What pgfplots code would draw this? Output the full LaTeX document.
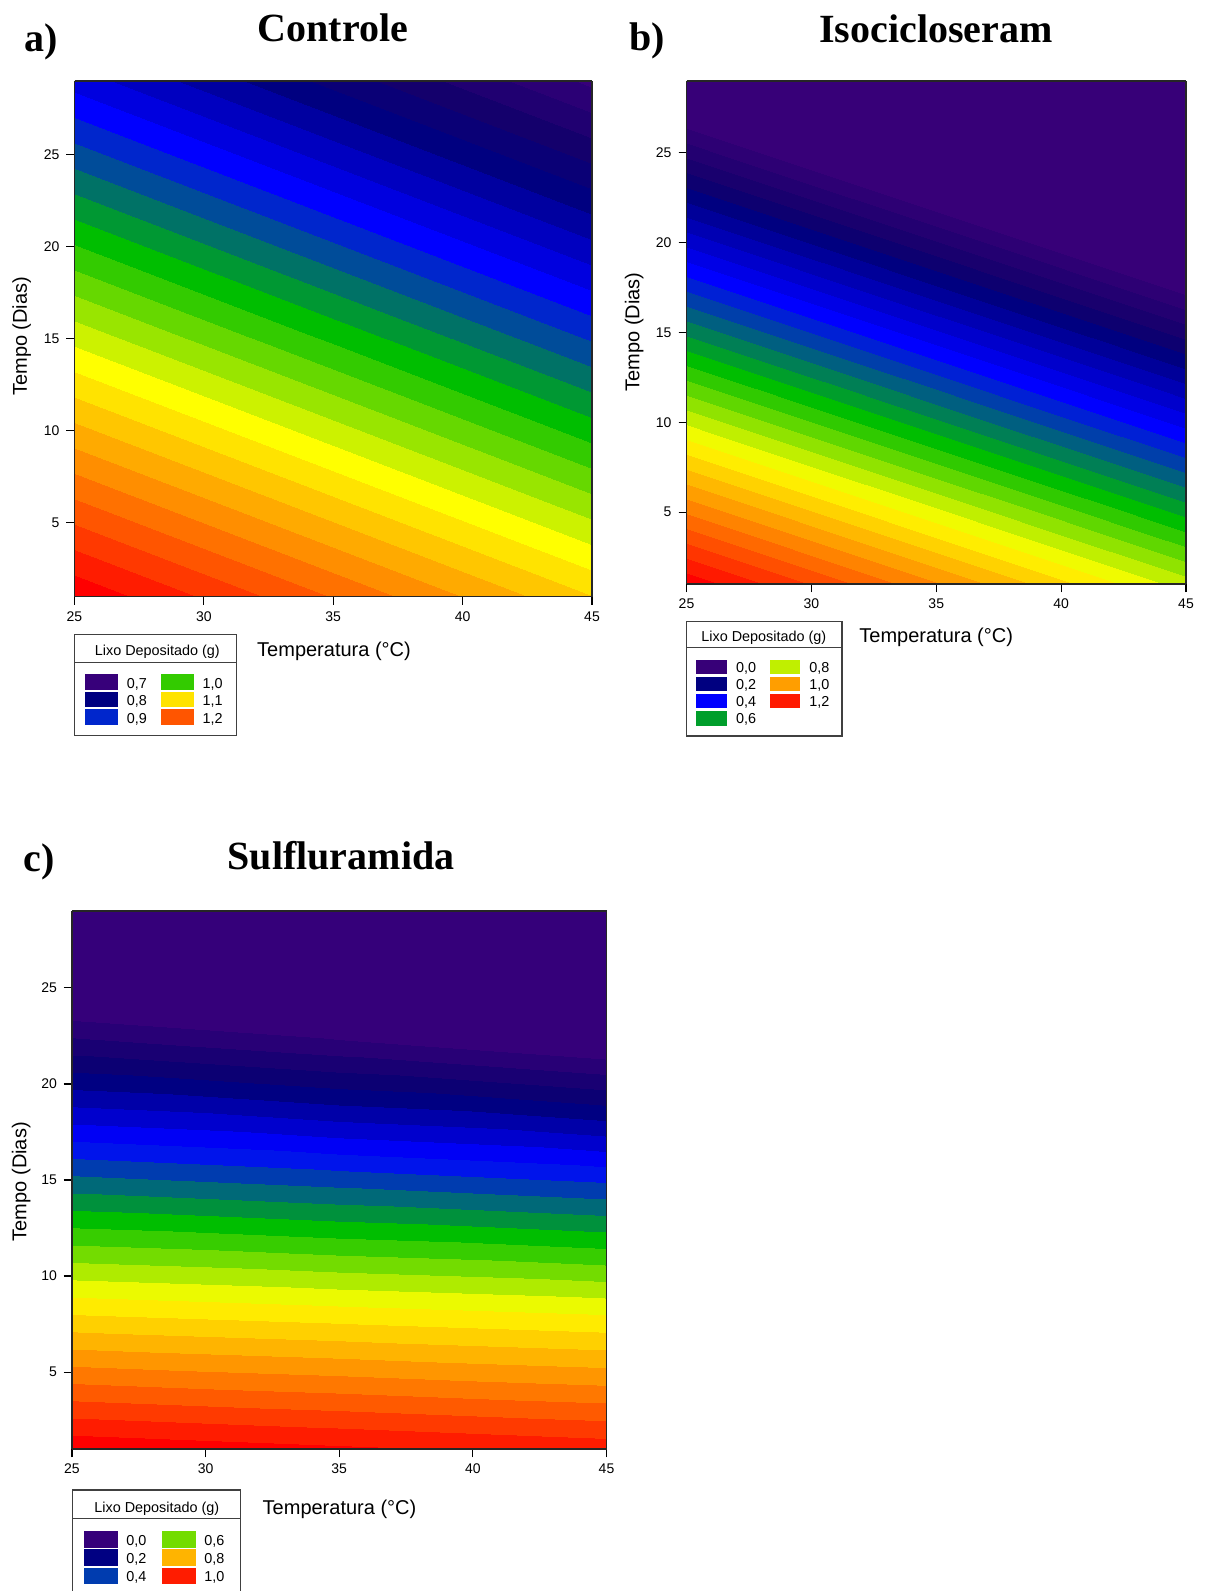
\documentclass[border=0pt]{standalone}
\usepackage{pgfplots}
\pgfplotsset{compat=1.18}
\usepackage{fontspec}
\setmainfont{Liberation Sans}
\newfontfamily\titlefont{Liberation Serif}

\pgfplotsset{
 colormap={cmA}{
  rgb255(0cm)=(55,0,122) rgb255(1cm)=(55,0,122) rgb255(2cm)=(43,0,117) rgb255(3cm)=(32,0,113)
  rgb255(4cm)=(20,0,108) rgb255(5cm)=(10,0,118) rgb255(6cm)=(0,0,128) rgb255(7cm)=(0,0,160)
  rgb255(8cm)=(0,0,192) rgb255(9cm)=(0,0,223) rgb255(10cm)=(0,0,255) rgb255(11cm)=(0,38,204)
  rgb255(12cm)=(0,76,153) rgb255(13cm)=(0,114,102) rgb255(14cm)=(0,152,51) rgb255(15cm)=(0,190,0)
  rgb255(16cm)=(51,203,0) rgb255(17cm)=(102,216,0) rgb255(18cm)=(153,229,0) rgb255(19cm)=(204,242,0)
  rgb255(20cm)=(255,255,0) rgb255(21cm)=(255,227,0) rgb255(22cm)=(255,198,0) rgb255(23cm)=(255,170,0)
  rgb255(24cm)=(255,142,0) rgb255(25cm)=(255,113,0) rgb255(26cm)=(255,85,0) rgb255(27cm)=(255,57,0)
  rgb255(28cm)=(255,28,0) rgb255(29cm)=(255,0,0) rgb255(30cm)=(255,0,0) rgb255(31cm)=(255,0,0)
 },
 colormap={cmB}{
  rgb255(0cm)=(55,0,120) rgb255(1cm)=(55,0,120) rgb255(2cm)=(55,0,120) rgb255(3cm)=(55,0,120)
  rgb255(4cm)=(55,0,120) rgb255(5cm)=(55,0,120) rgb255(6cm)=(55,0,120) rgb255(7cm)=(55,0,120)
  rgb255(8cm)=(55,0,120) rgb255(9cm)=(55,0,120) rgb255(10cm)=(55,0,120) rgb255(11cm)=(55,0,120)
  rgb255(12cm)=(55,0,120) rgb255(13cm)=(55,0,120) rgb255(14cm)=(55,0,120) rgb255(15cm)=(45,0,116)
  rgb255(16cm)=(35,0,113) rgb255(17cm)=(25,0,110) rgb255(18cm)=(13,0,112) rgb255(19cm)=(0,0,128)
  rgb255(20cm)=(0,0,153) rgb255(21cm)=(0,0,179) rgb255(22cm)=(0,0,204) rgb255(23cm)=(0,0,230)
  rgb255(24cm)=(0,0,255) rgb255(25cm)=(0,32,213) rgb255(26cm)=(0,63,170) rgb255(27cm)=(0,95,128)
  rgb255(28cm)=(0,127,85) rgb255(29cm)=(0,158,43) rgb255(30cm)=(0,190,0) rgb255(31cm)=(48,202,0)
  rgb255(32cm)=(96,215,0) rgb255(33cm)=(144,227,0) rgb255(34cm)=(192,239,0) rgb255(35cm)=(240,251,0)
  rgb255(36cm)=(255,237,0) rgb255(37cm)=(255,210,0) rgb255(38cm)=(255,184,0) rgb255(39cm)=(255,158,0)
  rgb255(40cm)=(255,131,0) rgb255(41cm)=(255,105,0) rgb255(42cm)=(255,79,0) rgb255(43cm)=(255,53,0)
  rgb255(44cm)=(255,26,0) rgb255(45cm)=(255,0,0) rgb255(46cm)=(255,0,0) rgb255(47cm)=(255,0,0)
 },
 colormap={cmC}{
  rgb255(0cm)=(53,0,122) rgb255(1cm)=(53,0,122) rgb255(2cm)=(53,0,122) rgb255(3cm)=(53,0,122)
  rgb255(4cm)=(53,0,122) rgb255(5cm)=(53,0,122) rgb255(6cm)=(53,0,122) rgb255(7cm)=(53,0,122)
  rgb255(8cm)=(53,0,122) rgb255(9cm)=(53,0,122) rgb255(10cm)=(53,0,122) rgb255(11cm)=(53,0,122)
  rgb255(12cm)=(40,0,118) rgb255(13cm)=(25,0,115) rgb255(14cm)=(12,0,115) rgb255(15cm)=(0,0,130)
  rgb255(16cm)=(0,0,168) rgb255(17cm)=(0,0,205) rgb255(18cm)=(0,0,245) rgb255(19cm)=(0,20,235)
  rgb255(20cm)=(0,60,175) rgb255(21cm)=(0,105,120) rgb255(22cm)=(0,145,60) rgb255(23cm)=(0,190,0)
  rgb255(24cm)=(55,205,0) rgb255(25cm)=(115,220,0) rgb255(26cm)=(175,235,0) rgb255(27cm)=(235,250,0)
  rgb255(28cm)=(255,235,0) rgb255(29cm)=(255,208,0) rgb255(30cm)=(255,180,0) rgb255(31cm)=(255,150,0)
  rgb255(32cm)=(255,120,0) rgb255(33cm)=(255,90,0) rgb255(34cm)=(255,58,0) rgb255(35cm)=(255,28,0)
  rgb255(36cm)=(255,0,0) rgb255(37cm)=(255,0,0) rgb255(38cm)=(255,0,0)
 },
 myax/.style={
  scale only axis, view={0}{90},
  xmin=25, xmax=45, ymin=1, ymax=29,
  xtick={25,30,35,40,45}, ytick={5,10,15,20,25},
  tick pos=left, tick align=outside,
  major tick length=4pt,
  every tick/.style={black, line width=0.6pt},
  axis line style={black!85, line width=0.65pt},
  ticklabel style={font=\fontsize{7}{8.4}\selectfont},
  /pgf/number format/assume math mode=true,
  axis on top,
  colormap access=piecewise constant,
 },
}

\definecolor{la1}{RGB}{55,0,122}
\definecolor{la2}{RGB}{0,0,128}
\definecolor{la3}{RGB}{0,38,204}
\definecolor{la4}{RGB}{51,203,0}
\definecolor{la5}{RGB}{255,227,0}
\definecolor{la6}{RGB}{255,85,0}
\definecolor{lb1}{RGB}{55,0,120}
\definecolor{lb2}{RGB}{0,0,128}
\definecolor{lb3}{RGB}{0,0,255}
\definecolor{lb4}{RGB}{0,158,43}
\definecolor{lb5}{RGB}{192,239,0}
\definecolor{lb6}{RGB}{255,158,0}
\definecolor{lb7}{RGB}{255,26,0}
\definecolor{lc1}{RGB}{53,0,122}
\definecolor{lc2}{RGB}{0,0,130}
\definecolor{lc3}{RGB}{0,60,175}
\definecolor{lc4}{RGB}{115,220,0}
\definecolor{lc5}{RGB}{255,180,0}
\definecolor{lc6}{RGB}{255,28,0}

\newcommand\lgfont{\fontsize{7.2}{8.6}\selectfont}
\newcommand\labfont{\fontsize{10}{12}\selectfont}
\newcommand\ttlfont{\titlefont\bfseries\fontsize{20}{24}\selectfont}

\begin{document}
\begin{tikzpicture}
\path[use as bounding box] (0pt,0pt) rectangle (603pt,-795.5pt);
\begin{scope}[x=0.5pt,y=-0.5pt]
 \coordinate (SA) at (74.5,596.5);
 \coordinate (SB) at (686.5,584);
 \coordinate (SC) at (72,1449);
\end{scope}

% ---------- a) Controle ----------
\begin{axis}[myax, at={(SA)}, anchor=south west, width=258.75pt, height=257.75pt,
  colormap name=cmA, point meta min=0.68, point meta max=1.30]
\addplot3[surf, shader=interp, mesh/cols=2, mesh/rows=2] table {
x y z
25 1 1.277
45 1 1.121
25 29 0.871
45 29 0.715
};
\end{axis}

% ---------- b) Isocicloseram ----------
\begin{axis}[myax, at={(SB)}, anchor=south west, width=249.75pt, height=251.5pt,
  colormap name=cmB, point meta min=-0.56, point meta max=1.32]
\addplot3[surf, shader=interp, mesh/cols=2, mesh/rows=2] table {
x y z
25 1 1.269
45 1 0.820
25 29 -0.088
45 29 -0.537
};
\end{axis}

% ---------- c) Sulfluramida ----------
\begin{axis}[myax, at={(SC)}, anchor=south west, width=267.25pt, height=269pt,
  colormap name=cmC, point meta min=-0.40, point meta max=1.12]
\addplot3[surf, shader=interp, mesh/cols=3, mesh/rows=5] table {
x y z
25 1 1.072
35 1 1.048
45 1 1.024
25 8 0.761
35 8 0.741
45 8 0.721
25 15 0.450
35 15 0.423
45 15 0.394
25 22 0.139
35 22 0.096
45 22 0.046
25 29 -0.172
35 29 -0.242
45 29 -0.324
};
\end{axis}

\begin{scope}[x=0.5pt,y=-0.5pt]
 % titles
 \node[anchor=base west, font=\ttlfont, inner sep=0pt] at (24.3,51.7) {a)};
 \node[anchor=base, font=\ttlfont, inner sep=0pt] at (333,41.7) {Controle};
 \node[anchor=base west, font=\ttlfont, inner sep=0pt] at (629,50) {b)};
 \node[anchor=base, font=\ttlfont, inner sep=0pt] at (936,42.7) {Isocicloseram};
 \node[anchor=base west, font=\ttlfont, inner sep=0pt] at (23.3,871.7) {c)};
 \node[anchor=base, font=\ttlfont, inner sep=0pt] at (341,869) {Sulfluramida};
 % axis labels
 \node[anchor=base, font=\labfont, inner sep=0pt] at (334,656.5) {Temperatura (°C)};
 \node[anchor=base, font=\labfont, inner sep=0pt] at (936.2,642.5) {Temperatura (°C)};
 \node[anchor=base, font=\labfont, inner sep=0pt] at (339.5,1514.5) {Temperatura (°C)};
 \node[anchor=base, rotate=90, font=\labfont, inner sep=0pt] at (26.8,336.2) {Tempo (Dias)};
 \node[anchor=base, rotate=90, font=\labfont, inner sep=0pt] at (639.3,332) {Tempo (Dias)};
 \node[anchor=base, rotate=90, font=\labfont, inner sep=0pt] at (26.4,1181.7) {Tempo (Dias)};

 % legend a
 \draw[black!75, line width=0.7pt] (74.5,634.3) rectangle (236.4,735.7);
 \draw[black!75, line width=0.7pt] (74.5,662.3) -- (236.4,662.3);
 \node[anchor=base, font=\lgfont, inner sep=0pt] at (157.3,655.5) {Lixo Depositado (g)};
 \fill[la1] (85,674.3) rectangle (117.6,690);
 \fill[la2] (85,691.7) rectangle (117.6,707.3);
 \fill[la3] (85,709.3) rectangle (117.6,725);
 \fill[la4] (161,674.3) rectangle (193.5,690);
 \fill[la5] (161,691.7) rectangle (193.5,707.3);
 \fill[la6] (161,709.3) rectangle (193.5,725);
 \node[anchor=base west, font=\lgfont, inner sep=0pt] at (126.4,688) {0,7};
 \node[anchor=base west, font=\lgfont, inner sep=0pt] at (126.4,705.5) {0,8};
 \node[anchor=base west, font=\lgfont, inner sep=0pt] at (126.4,723) {0,9};
 \node[anchor=base west, font=\lgfont, inner sep=0pt] at (202.3,688) {1,0};
 \node[anchor=base west, font=\lgfont, inner sep=0pt] at (202.3,705.5) {1,1};
 \node[anchor=base west, font=\lgfont, inner sep=0pt] at (202.3,723) {1,2};

 % legend b
 \draw[black!75, line width=0.7pt] (686.3,621.7) rectangle (842,736);
 \draw[black!75, line width=0.7pt] (686.3,647.7) -- (842,647.7);
 \node[anchor=base, font=\lgfont, inner sep=0pt] at (763.8,641.5) {Lixo Depositado (g)};
 \fill[lb1] (696.3,660) rectangle (727.2,674.3);
 \fill[lb2] (696.3,677.3) rectangle (727.2,691.3);
 \fill[lb3] (696.3,694) rectangle (727.2,708.3);
 \fill[lb4] (696.3,711) rectangle (727.2,725.7);
 \fill[lb5] (769.6,660) rectangle (800.4,674.3);
 \fill[lb6] (769.6,677.3) rectangle (800.4,691.3);
 \fill[lb7] (769.6,694) rectangle (800.4,708.3);
 \node[anchor=base west, font=\lgfont, inner sep=0pt] at (735.6,672.7) {0,0};
 \node[anchor=base west, font=\lgfont, inner sep=0pt] at (735.6,689.7) {0,2};
 \node[anchor=base west, font=\lgfont, inner sep=0pt] at (735.6,706.5) {0,4};
 \node[anchor=base west, font=\lgfont, inner sep=0pt] at (735.6,723.5) {0,6};
 \node[anchor=base west, font=\lgfont, inner sep=0pt] at (808.9,672.7) {0,8};
 \node[anchor=base west, font=\lgfont, inner sep=0pt] at (808.9,689.7) {1,0};
 \node[anchor=base west, font=\lgfont, inner sep=0pt] at (808.9,706.5) {1,2};

 % legend c
 \draw[black!75, line width=0.7pt] (72.4,1591) -- (72.4,1490) -- (240.3,1490) -- (240.3,1591);
 \draw[black!75, line width=0.7pt] (72.4,1518.3) -- (240.3,1518.3);
 \node[anchor=base, font=\lgfont, inner sep=0pt] at (156.8,1512) {Lixo Depositado (g)};
 \fill[lc1] (84,1531) rectangle (117.6,1547.7);
 \fill[lc2] (84,1549.3) rectangle (117.6,1565.7);
 \fill[lc3] (84,1567.7) rectangle (117.6,1584);
 \fill[lc4] (162.3,1531) rectangle (196,1547.7);
 \fill[lc5] (162.3,1549.3) rectangle (196,1565.7);
 \fill[lc6] (162.3,1567.7) rectangle (196,1584);
 \node[anchor=base west, font=\lgfont, inner sep=0pt] at (125.9,1545) {0,0};
 \node[anchor=base west, font=\lgfont, inner sep=0pt] at (125.9,1563) {0,2};
 \node[anchor=base west, font=\lgfont, inner sep=0pt] at (125.9,1581) {0,4};
 \node[anchor=base west, font=\lgfont, inner sep=0pt] at (203.9,1545) {0,6};
 \node[anchor=base west, font=\lgfont, inner sep=0pt] at (203.9,1563) {0,8};
 \node[anchor=base west, font=\lgfont, inner sep=0pt] at (203.9,1581) {1,0};
\end{scope}
\end{tikzpicture}
\end{document}
